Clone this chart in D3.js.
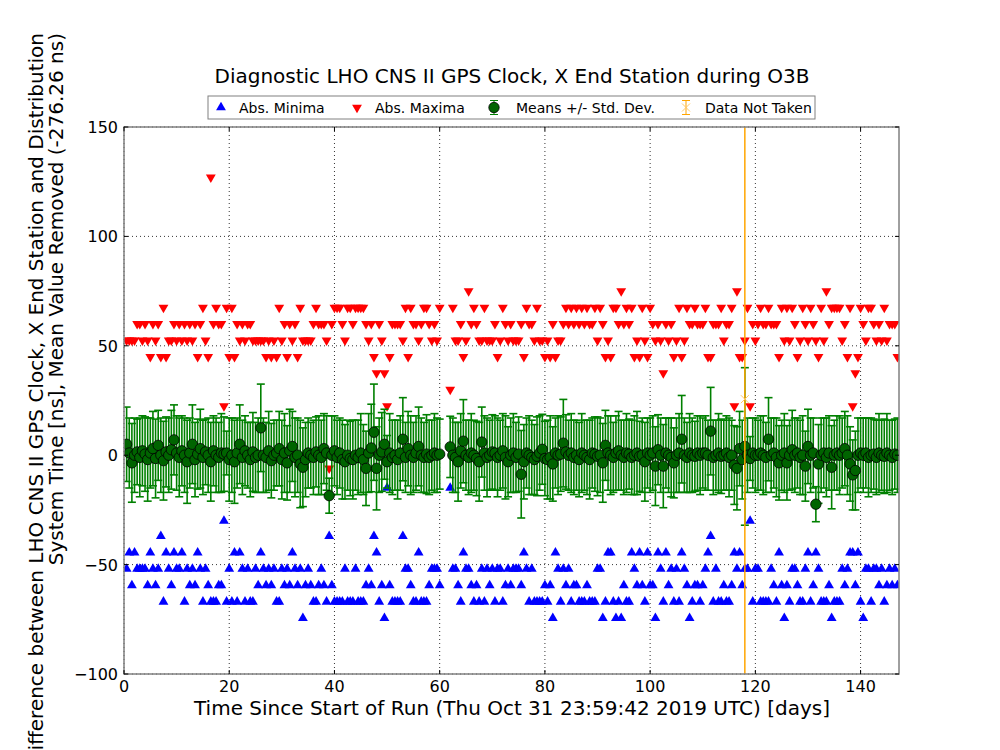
<!DOCTYPE html>
<html>
<head>
<meta charset="utf-8">
<script src="https://cdn.jsdelivr.net/npm/d3@7"></script>
<style>
  body { margin: 0; background: #fff; }
  text { font-family: "DejaVu Sans", sans-serif; fill: #000; }
</style>
</head>
<body>
<svg id="chart" width="1000" height="750"></svg>
<script>
// sample times, days since start of run
const days = [
  0.5,1,1.5,2,2.5,3,3.5,4,4.5,5,5.5,6,6.5,7,7.5,8,8.5,9,9.5,10,
  10.5,11,11.5,12,12.5,13,13.5,14,14.5,15,15.5,16,16.5,17,17.5,18,18.5,19,19.5,20,
  20.5,21,21.5,22,22.5,23,23.5,24,24.5,25,25.5,26,26.5,27,27.5,28,28.5,29,29.5,30,
  30.5,31,31.5,32,32.5,33,33.5,34,34.5,35,35.5,36,36.5,37,37.5,38,38.5,39,39.5,40,
  40.5,41,41.5,42,42.5,43,43.5,44,44.5,45,45.5,46,46.5,47,47.5,48,48.5,49,49.5,50,
  50.5,51,51.5,52,52.5,53,53.5,54,54.5,55,55.5,56,56.5,57,57.5,58,58.5,59,59.5,60,
  62,62.5,63,63.5,64,64.5,65,65.5,66,66.5,67,67.5,68,68.5,69,69.5,70,
  70.5,71,71.5,72,72.5,73,73.5,74,74.5,75,75.5,76,76.5,77,77.5,78,78.5,79,79.5,80,
  80.5,81,81.5,82,82.5,83,83.5,84,84.5,85,85.5,86,86.5,87,87.5,88,88.5,89,89.5,90,
  90.5,91,91.5,92,92.5,93,93.5,94,94.5,95,95.5,96,96.5,97,97.5,98,98.5,99,99.5,100,
  100.5,101,101.5,102,102.5,103,103.5,104,104.5,105,105.5,106,106.5,107,107.5,108,108.5,109,109.5,110,
  110.5,111,111.5,112,112.5,113,113.5,114,114.5,115,115.5,116,116.5,117,117.5,118,118.5,119,119.5,120,
  120.5,121,121.5,122,122.5,123,123.5,124,124.5,125,125.5,126,126.5,127,127.5,128,128.5,129,129.5,130,
  130.5,131,131.5,132,132.5,133,133.5,134,134.5,135,135.5,136,136.5,137,137.5,138,138.5,139,139.5,140,
  140.5,141,141.5,142,142.5,143,143.5,144,144.5,145,145.5,146,146.5,147
];

// absolute maxima [ns]
const maxima = [
  52.5,52.5,52.5,52.5,60,60,52.5,60,52.5,45,60,52.5,60,45,67.5,45,52.5,52.5,60,52.5,
  60,52.5,60,52.5,60,52.5,60,45,60,67.5,52.5,45,127,60,67.5,60,60,22.5,67.5,45,
  67.5,45,60,52.5,60,52.5,60,60,52.5,52.5,52.5,52.5,52.5,45,52.5,45,52.5,45,67.5,52.5,
  60,45,60,52.5,60,45,67.5,52.5,52.5,52.5,52.5,60,67.5,60,60,60,52.5,-6,60,67.5,
  67.5,67.5,60,52.5,67.5,67.5,60,67.5,67.5,67.5,67.5,60,52.5,60,45,37.5,60,52.5,37.5,22.5,
  45,60,60,60,60,52.5,67.5,45,67.5,60,60,52.5,60,67.5,67.5,60,52.5,60,52.5,67.5,
  30,67.5,52.5,52.5,60,45,52.5,75,60,67.5,60,52.5,52.5,67.5,52.5,52.5,52.5,
  60,45,52.5,67.5,60,52.5,60,52.5,52.5,52.5,60,45,67.5,60,60,52.5,67.5,52.5,52.5,45,
  52.5,45,60,45,52.5,52.5,60,67.5,60,67.5,60,67.5,60,67.5,60,67.5,60,60,67.5,52.5,
  67.5,60,45,52.5,45,67.5,67.5,60,75,60,67.5,60,67.5,45,52.5,45,67.5,52.5,45,67.5,
  60,52.5,60,52.5,37.5,60,52.5,60,45,52.5,67.5,45,52.5,67.5,60,60,67.5,60,60,60,
  67.5,45,45,60,60,60,67.5,52.5,60,60,67.5,22.5,75,45,45,52.5,67.5,22.5,60,52.5,
  60,67.5,60,60,67.5,60,60,60,45,67.5,52.5,67.5,52.5,67.5,60,45,52.5,67.5,60,52.5,
  67.5,60,52.5,45,67.5,52.5,75,60,67.5,67.5,67.5,67.5,52.5,60,45,67.5,22.5,37.5,45,67.5,
  60,52.5,67.5,67.5,60,52.5,60,52.5,67.5,52.5,60,60,60,45
];

// absolute minima [ns]
const minima = [
  -52,-44.5,-59.5,-44.5,-52,-52,-52,-52,-59.5,-44.5,-52,-59.5,-52,-37,-67,-44.5,-52,-59.5,-44.5,-52,
  -52,-44.5,-67,-52,-59.5,-52,-59.5,-44.5,-52,-67,-52,-59.5,-67,-67,-67,-59.5,-59.5,-30,-67,-52,
  -67,-44.5,-67,-44.5,-52,-67,-52,-67,-67,-52,-59.5,-44.5,-52,-59.5,-52,-59.5,-52,-67,-67,-52,
  -59.5,-52,-59.5,-44.5,-52,-59.5,-52,-74.5,-59.5,-52,-59.5,-67,-67,-59.5,-52,-59.5,-67,-37,-59.5,-67,
  -67,-67,-67,-52,-67,-67,-67,-52,-67,-67,-67,-59.5,-52,-59.5,-37,-44.5,-67,-59.5,-74.5,-15,
  -59.5,-67,-67,-67,-67,-37,-52,-52,-59.5,-67,-67,-44.5,-67,-67,-67,-59.5,-52,-52,-52,-59.5,
  -15,-52,-52,-59.5,-67,-44.5,-52,-52,-59.5,-67,-59.5,-67,-52,-67,-52,-59.5,-52,
  -67,-52,-52,-67,-59.5,-52,-59.5,-52,-52,-52,-59.5,-44.5,-52,-67,-52,-67,-67,-67,-67,-59.5,
  -67,-59.5,-74.5,-44.5,-52,-67,-52,-59.5,-52,-67,-59.5,-59.5,-67,-67,-67,-59.5,-67,-67,-67,-52,
  -52,-74.5,-67,-44.5,-44.5,-67,-74.5,-67,-74.5,-59.5,-67,-67,-44.5,-52,-59.5,-44.5,-59.5,-67,-44.5,-59.5,
  -59.5,-74.5,-44.5,-52,-67,-44.5,-59.5,-52,-67,-52,-67,-44.5,-52,-59.5,-74.5,-67,-59.5,-59.5,-67,-59.5,
  -52,-44.5,-37,-67,-52,-67,-67,-59.5,-67,-67,-59.5,-44.5,-52,-44.5,-59.5,-52,-52,-30,-67,-52,
  -52,-67,-67,-67,-67,-52,-59.5,-67,-44.5,-59.5,-74.5,-59.5,-67,-52,-52,-59.5,-67,-67,-52,-44.5,
  -67,-59.5,-44.5,-52,-67,-67,-67,-59.5,-74.5,-67,-67,-67,-52,-59.5,-52,-44.5,-44.5,-59.5,-44.5,-67,
  -74.5,-52,-52,-67,-52,-52,-59.5,-52,-67,-59.5,-52,-59.5,-52,-59.5
];

// means [ns]
const means = [
  5,1,-3.5,0,1.5,-1,2,0.5,-2,1,3,-1.5,4.5,0,-2.5,1.5,0,2.5,7,1,
  -1,2,0,-3,1,5,-2,0.5,3,-1,1.5,0,-3,2,0,-1,1,0.5,1,-2,
  0,-3,1,5,-1,2,0,-2,1.5,-1,0,12.5,0,-1,2,-2.5,0,1,3,-2,
  1,-3.5,2,4,-1,0,-4,-5.5,-2,1,0,-1,1.5,0,-1,3,1,-18.5,0,2,
  -1,1,-2,-3,0,-1.5,-2,0,-1,1,-2,-6,1,3.3,10.5,-6,0,1.5,5,-3,
  1,-1,0,-2,1,7.3,-1,3,0,-1,1,4,0,-1,0.5,-1,0,1,0,0.5,
  3.8,0,-1,-3,2,6.4,0,-1,1,0,-1.5,-3,6,1,-1,0,1.5,
  1,-1,0,2,-1,-3,0,1,-1,0.5,-8.7,-3,1,0,-1,-2,-0.5,1,2.7,-1.5,
  -2,-1,-4,1,0,0.5,5.5,1.5,0,1,-1,0,-2,1,0,-1,-2,1,0.5,-0.5,
  0,-3.5,4.5,1,0,-1,1,2,0,-1,1,0.5,-1,0,1,-0.5,0,-3,1,0,
  1,-5,2.5,0,-5,1,0,-1,-3.5,0,1,7.3,0,-1,1,0,-0.5,1,0,1,
  1,0,11,-1,0,1,-0.5,0,1,-1,0,-4.5,-6,3,-2,4,0,-1.5,1,0,
  0,1,0,-1,7.3,0,1,-1,-3.5,0,1,-3.5,0,2.5,0,1,-1,0,-5,4,
  0,1,-22.4,-4,0,1,-1,1,-5.5,0,1,0,1,3,0,-4,-9,-7,0,1,
  0,1,-1,0,0.5,-1,1,0,-0.5,1,0,-1,0.5,0
];

// standard deviations [ns]
const stdevs = [
  17,16,18,17,15,18,16,17,19,16,17,18,16,17,18,16,17,18,16,17,
  18,16,17,19,16,18,17,16,18,17,15,17,18,16,17,16,18,17,10,19,
  17,19,16,18,17,16,15,17,18,16,17,20,17,16,18,17,16,15,17,18,
  18,17,19,16,18,17,20,18,17,16,15,17,16,18,17,16,17,8,18,16,
  17,16,18,17,16,17,18,16,17,18,16,17,18,20,22,19,17,18,16,12,
  18,17,16,18,17,19,16,17,18,16,17,18,17,16,18,17,16,18,17,16,
  14,17,16,18,17,19,16,17,18,16,17,18,16,17,18,16,17,
  17,18,16,17,19,16,17,18,16,17,20,17,16,18,17,16,18,17,16,17,
  18,19,17,16,18,17,20,17,16,18,17,16,17,18,16,17,18,16,17,18,
  17,18,16,17,18,16,17,18,16,17,18,16,17,18,19,16,17,18,16,17,
  17,18,16,17,19,16,17,18,16,17,18,20,17,16,18,17,16,17,18,16,
  17,16,20,17,16,18,17,16,17,18,16,18,19,17,18,36,17,10,16,17,
  16,17,18,16,19,17,16,18,17,16,18,17,16,18,17,16,17,18,16,17,
  17,16,8,18,17,16,18,17,19,16,17,18,16,17,18,17,16,18,17,16,
  17,16,18,17,16,17,18,16,17,18,16,17,16,17
];

// data not taken
const notTakenDays = [118];
const notTakenVals = [25.6];

const xTicks = [0, 20, 40, 60, 80, 100, 120, 140];
const yTicks = [-100, -50, 0, 50, 100, 150];

const legendLabels = ["Abs. Minima", "Abs. Maxima", "Means +/- Std. Dev.", "Data Not Taken"];

const svg = d3.select("#chart");
const L = 124, R = 899, T = 127, B = 674;

const x = d3.scaleLinear().domain([0, 147.3]).range([L, R]);
const y = d3.scaleLinear().domain([-100, 150]).range([B, T]);

const pts = days.map((d, i) => ({day: d, max: maxima[i], min: minima[i], mean: means[i], sd: stdevs[i]}));

svg.append("defs").append("clipPath").attr("id", "plotclip")
  .append("rect").attr("x", L).attr("y", T).attr("width", R - L).attr("height", B - T);

// grid
const grid = svg.append("g");
grid.selectAll("line.gx").data(xTicks).join("line")
  .attr("x1", d => x(d)).attr("x2", d => x(d)).attr("y1", T).attr("y2", B)
  .attr("stroke", "#000").attr("stroke-width", 0.8).attr("stroke-dasharray", "1,3");
grid.selectAll("line.gy").data(yTicks).join("line")
  .attr("x1", L).attr("x2", R).attr("y1", d => y(d)).attr("y2", d => y(d))
  .attr("stroke", "#000").attr("stroke-width", 0.8).attr("stroke-dasharray", "1,3");

const plot = svg.append("g").attr("clip-path", "url(#plotclip)");

const triUp = d3.symbol().type(d3.symbolTriangle).size(42);

// minima
plot.append("g").selectAll("path").data(pts).join("path")
  .attr("d", triUp)
  .attr("transform", d => `translate(${x(d.day)},${y(d.min)})`)
  .attr("fill", "#0000ff");

// maxima
plot.append("g").selectAll("path").data(pts).join("path")
  .attr("d", triUp)
  .attr("transform", d => `translate(${x(d.day)},${y(d.max)}) rotate(180)`)
  .attr("fill", "#ff0000");

// error bars
const eb = plot.append("g").attr("stroke", "#008000").attr("stroke-width", 1.6);
eb.selectAll("line.v").data(pts).join("line")
  .attr("x1", d => x(d.day)).attr("x2", d => x(d.day))
  .attr("y1", d => y(d.mean + d.sd)).attr("y2", d => y(d.mean - d.sd));
eb.selectAll("line.t").data(pts).join("line")
  .attr("x1", d => x(d.day) - 4).attr("x2", d => x(d.day) + 4)
  .attr("y1", d => y(d.mean + d.sd)).attr("y2", d => y(d.mean + d.sd));
eb.selectAll("line.b").data(pts).join("line")
  .attr("x1", d => x(d.day) - 4).attr("x2", d => x(d.day) + 4)
  .attr("y1", d => y(d.mean - d.sd)).attr("y2", d => y(d.mean - d.sd));

// means
plot.append("g").selectAll("circle").data(pts).join("circle")
  .attr("cx", d => x(d.day)).attr("cy", d => y(d.mean)).attr("r", 5.2)
  .attr("fill", "#006400").attr("stroke", "#000").attr("stroke-width", 0.8);

// data not taken
const nt = plot.append("g");
notTakenDays.forEach((d, i) => {
  nt.append("line").attr("x1", x(d)).attr("x2", x(d)).attr("y1", T).attr("y2", B)
    .attr("stroke", "#ffa500").attr("stroke-width", 1.5);
  const cx = x(d), cy = y(notTakenVals[i]);
  nt.append("path").attr("d", `M${cx-4},${cy-4}L${cx+4},${cy+4}M${cx-4},${cy+4}L${cx+4},${cy-4}`)
    .attr("stroke", "#ffc966").attr("stroke-width", 1);
});

// frame
svg.append("rect").attr("x", L).attr("y", T).attr("width", R - L).attr("height", B - T)
  .attr("fill", "none").attr("stroke", "#808080").attr("stroke-width", 1.5);

// inward ticks on all sides
const tk = svg.append("g").attr("stroke", "#000").attr("stroke-width", 1);
xTicks.forEach(t => {
  tk.append("line").attr("x1", x(t)).attr("x2", x(t)).attr("y1", B).attr("y2", B - 4);
  tk.append("line").attr("x1", x(t)).attr("x2", x(t)).attr("y1", T).attr("y2", T + 4);
});
yTicks.forEach(t => {
  tk.append("line").attr("x1", L).attr("x2", L + 4).attr("y1", y(t)).attr("y2", y(t));
  tk.append("line").attr("x1", R).attr("x2", R - 4).attr("y1", y(t)).attr("y2", y(t));
});

// tick labels (unicode minus as in the original)
const fmt = d => String(d).replace("-", "\u2212");
svg.append("g").selectAll("text").data(xTicks).join("text")
  .attr("x", d => x(d)).attr("y", B + 18).attr("text-anchor", "middle")
  .attr("font-size", 16).text(fmt);
svg.append("g").selectAll("text").data(yTicks).join("text")
  .attr("x", L - 6).attr("y", d => y(d) + 6).attr("text-anchor", "end")
  .attr("font-size", 16).text(fmt);

// title and axis labels
svg.append("text").attr("x", 512).attr("y", 83).attr("text-anchor", "middle")
  .attr("font-size", 20).text("Diagnostic LHO CNS II GPS Clock, X End Station during O3B");
svg.append("text").attr("x", 512).attr("y", 715).attr("text-anchor", "middle")
  .attr("font-size", 20).text("Time Since Start of Run (Thu Oct 31 23:59:42 2019 UTC) [days]");
const yl = svg.append("text").attr("transform", "rotate(-90)")
  .attr("text-anchor", "end").attr("font-size", 20);
yl.append("tspan").attr("x", -33).attr("y", 43)
  .text("Difference between LHO CNS II GPS Clock, X End Station and Distribution");
yl.append("tspan").attr("x", -33).attr("y", 63)
  .text("System Time [ns], Mean Value Removed (-276.26 ns)");

// legend
const lg = svg.append("g");
lg.append("rect").attr("x", 208).attr("y", 96).attr("width", 607).attr("height", 23)
  .attr("fill", "#fff").attr("stroke", "#808080").attr("stroke-width", 1);
const ly = 107.5;
lg.append("path").attr("d", triUp).attr("transform", `translate(221,${ly})`).attr("fill", "#0000ff");
lg.append("path").attr("d", triUp).attr("transform", `translate(357,${ly}) rotate(180)`).attr("fill", "#ff0000");
lg.append("line").attr("x1", 494).attr("x2", 494).attr("y1", ly - 7).attr("y2", ly + 7).attr("stroke", "#008000");
lg.append("line").attr("x1", 490).attr("x2", 498).attr("y1", ly - 7).attr("y2", ly - 7).attr("stroke", "#008000");
lg.append("line").attr("x1", 490).attr("x2", 498).attr("y1", ly + 7).attr("y2", ly + 7).attr("stroke", "#008000");
lg.append("circle").attr("cx", 494).attr("cy", ly).attr("r", 5.2).attr("fill", "#006400").attr("stroke", "#000").attr("stroke-width", 0.8);
lg.append("line").attr("x1", 686).attr("x2", 686).attr("y1", ly - 7).attr("y2", ly + 7).attr("stroke", "#ffa500");
lg.append("line").attr("x1", 682).attr("x2", 690).attr("y1", ly - 7).attr("y2", ly - 7).attr("stroke", "#ffa500");
lg.append("line").attr("x1", 682).attr("x2", 690).attr("y1", ly + 7).attr("y2", ly + 7).attr("stroke", "#ffa500");
lg.append("path").attr("d", `M682,${ly-4}L690,${ly+4}M682,${ly+4}L690,${ly-4}`).attr("stroke", "#ffc966");
const lx = [239, 375, 516, 705];
lg.selectAll("text").data(legendLabels).join("text")
  .attr("x", (d, i) => lx[i]).attr("y", ly + 5).attr("font-size", 14).text(d => d);
</script>
</body>
</html>
